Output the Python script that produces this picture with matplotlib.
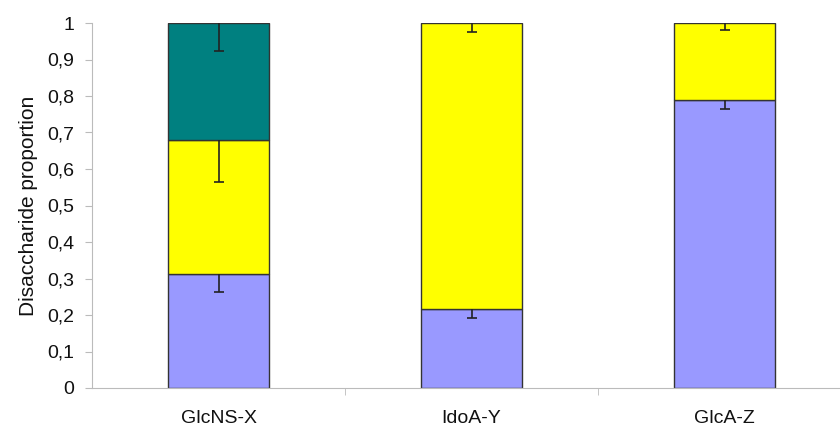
import matplotlib.pyplot as plt
import numpy as np

plt.rcParams['font.family'] = ['Liberation Sans', 'DejaVu Sans']

categories = ["GlcNS-X", "IdoA-Y", "GlcA-Z"]
# stacked segment heights (bottom to top)
lavender = [0.312, 0.216, 0.789]
yellow = [0.367, 0.784, 0.211]
teal = [0.321, 0.0, 0.0]
# downward error at top of each segment
lavender_err = [0.049, 0.024, 0.025]
yellow_err = [0.115, 0.025, 0.019]
teal_err = [0.077, 0.0, 0.0]

fig = plt.figure(figsize=(8.4, 4.28), dpi=100)
ax = fig.add_axes([92 / 840, 40 / 428, 759 / 840, 365 / 428])

x = np.arange(len(categories))
w = 0.4
edge = dict(edgecolor="#333333", linewidth=1.0)
err_kw = dict(fmt="none", ecolor="#222222", elinewidth=1.2, capsize=3.5, capthick=1.2)

lav = np.array(lavender)
yel = np.array(yellow)
tea = np.array(teal)
has_teal = tea > 0

ax.bar(x, lav, w, color="#9999FF", **edge)
ax.bar(x, yel, w, bottom=lav, color="#FFFF00", **edge)
ax.bar(x[has_teal], tea[has_teal], w, bottom=(lav + yel)[has_teal], color="#008080", **edge)

def lower_err(xs, tops, errs):
    # only the downward half of the error bar, cap only at the bottom
    eb = ax.errorbar(xs, tops, yerr=[errs, np.zeros(len(errs))], **err_kw)
    eb[1][1].set_visible(False)

lower_err(x, lav, np.array(lavender_err))
lower_err(x, lav + yel, np.array(yellow_err))
lower_err(x[has_teal], (lav + yel + tea)[has_teal], np.array(teal_err)[has_teal])

ax.set_xlim(-0.5, 2.5)
ax.set_ylim(0, 1)
ax.set_yticks(np.arange(0, 1.01, 0.1))
ax.set_yticklabels(["0"] + [f"0,{i}" for i in range(1, 10)] + ["1"])
ax.set_xticks(x)
ax.set_xticklabels(categories)
ax.set_xticks([0.5, 1.5], minor=True)
ax.tick_params(axis="x", which="major", length=0, pad=16, labelsize=14, labelcolor="#111111")
ax.tick_params(axis="x", which="minor", length=5, color="#BBBBBB", direction="out")
ax.tick_params(axis="y", length=5, color="#BBBBBB", labelsize=14, pad=8, labelcolor="#111111")

for s in ["top", "right"]:
    ax.spines[s].set_visible(False)
for s in ["left", "bottom"]:
    ax.spines[s].set_color("#BBBBBB")
ax.set_ylabel("Disaccharide proportion", fontsize=15, labelpad=6, color="#111111")

fig.savefig("out.png", dpi=100)
